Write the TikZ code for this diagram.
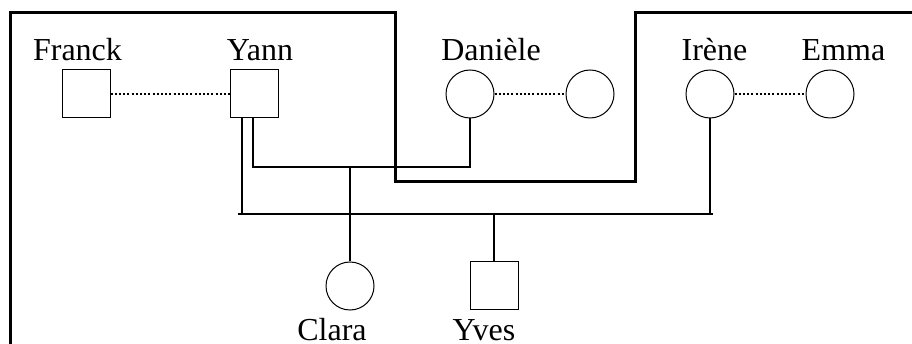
\documentclass[tikz,border=0pt]{standalone}
\usepackage{fontspec}
\setmainfont{Liberation Serif}
\begin{document}
\begin{tikzpicture}[x=1pt,y=-1pt,
  male/.style={draw,line width=1pt,rectangle,minimum size=48pt,inner sep=0pt},
  female/.style={draw,line width=1pt,circle,minimum size=48pt,inner sep=0pt},
  lbl/.style={anchor=base,inner sep=0pt,font=\fontsize{32}{38}\selectfont},
  link/.style={line width=1.2pt},
  spouse/.style={line width=2pt,dash pattern=on 2pt off 2.2pt},
  frame/.style={line width=3pt}]
\useasboundingbox (0,0) rectangle (912,344);
% people
\node[male] (franck) at (86,94) {};
\node[male] (yann) at (254,94) {};
\node[female] (daniele) at (470,94) {};
\node[female] (dpartner) at (590,94) {};
\node[female] (irene) at (710,94) {};
\node[female] (emma) at (830,94) {};
\node[female] (clara) at (350,286) {};
\node[male] (yves) at (494,286) {};
% labels
\node[lbl] (lfranck) at (77.5,61) {Franck};
\node[lbl] (lyann) at (260,61) {Yann};
\node[lbl] (ldaniele) at (491,61) {Danièle};
\node[lbl] (lirene) at (714.5,61) {Irène};
\node[lbl] (lemma) at (843.5,61) {Emma};
\node[lbl] (lclara) at (332,340.5) {Clara};
\node[lbl] (lyves) at (484,340.5) {Yves};
% frame
\draw[frame] (10.5,344) -- (10.5,13) -- (395,13) -- (395,182) -- (635,182) -- (635,13) -- (912,13);
% spouse links
\draw[spouse] (franck.east) -- (yann.west);
\draw[spouse] (daniele.east) -- (dpartner.west);
\draw[spouse] (irene.east) -- (emma.west);
% junctions
\coordinate (j1) at (253,167);
\coordinate (j2) at (470,167);
\coordinate (jc) at (350,167);
\coordinate (ml) at (238,214);
\coordinate (mr) at (713,214);
\coordinate (jy) at (242,214);
\coordinate (ji) at (710,214);
\coordinate (jv) at (494,214);
% Yann - Danièle
\draw[link] (yann.south -| j1) -- (j1) -- (j2) -- (daniele.south);
\draw[link] (jc) -- (clara.north);
% Yann - Irène
\draw[link] (ml) -- (mr);
\draw[link] (yann.south -| jy) -- (jy);
\draw[link] (irene.south) -- (ji);
\draw[link] (jv) -- (yves.north);
\end{tikzpicture}
\end{document}
